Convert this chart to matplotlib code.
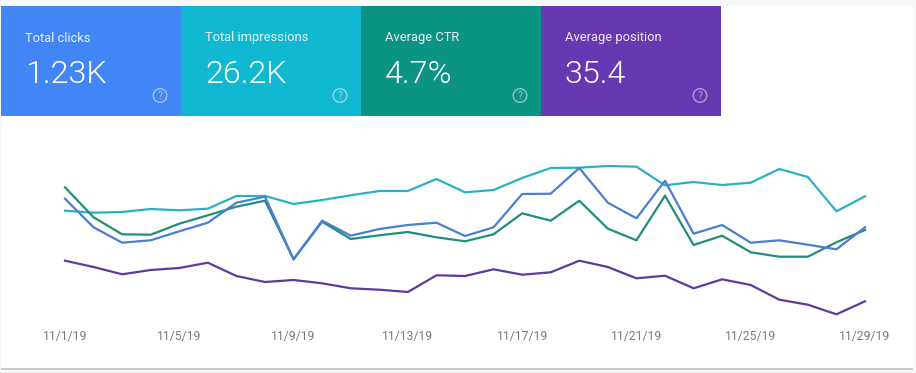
import matplotlib
matplotlib.use('Agg')
import matplotlib.pyplot as plt
from matplotlib.patches import Rectangle, Circle

plt.rcParams['font.family'] = ['Roboto', 'DejaVu Sans']

# every series has its own hidden scale, values are read as height above the chart floor
days = list(range(1, 30))
tick_days = [1, 5, 9, 13, 17, 21, 25, 29]
tick_labels = ['11/%d/19' % d for d in tick_days]

clicks = [121.3, 92.7, 77.3, 79.7, 88.7, 97.3, 117.3, 123.3, 60.7, 99.3,
          84.3, 91, 95, 97.3, 84, 92.7, 126, 126.3, 152, 117.3,
          101.7, 139.3, 86.3, 95, 77.3, 79.7, 75.3, 70.7, 92.7]
impressions = [109.3, 107.3, 108, 111, 109.7, 111.3, 124, 124, 116, 120,
               124.7, 129, 129, 141, 127.7, 130, 142, 152, 152.3, 154,
               153.3, 134.7, 138, 135, 137.3, 151, 143, 108.7, 123.7]
ctr = [132.7, 102.7, 85.7, 85.3, 96.3, 104.7, 113.3, 119.3, 60.7, 98.3,
       81, 84.7, 88, 82.7, 78.7, 85.7, 106.7, 99.3, 119.3, 91.3,
       79.7, 124.3, 75, 84.3, 67.7, 63.3, 63.3, 77.7, 90]
position = [59.3, 53, 45.7, 50, 52, 57.3, 44, 38, 40, 36.7,
            31.7, 30.3, 28, 44.7, 44, 50.7, 45.3, 47.7, 59.3, 53,
            41.7, 44.3, 31.7, 40.7, 35, 20.3, 15.3, 5.7, 18.7]

tile_titles = ['Total clicks', 'Total impressions', 'Average CTR', 'Average position']
tile_values = ['1.23K', '26.2K', '4.7%', '35.4']
tile_colors = ['#4285F4', '#10B8D2', '#0B9384', '#6639B2']

W, H = 916, 373
fig = plt.figure(figsize=(W / 100, H / 100), dpi=100, facecolor='#F7F8F8')

# background layer in pixel coordinates: card and tiles
bg = fig.add_axes([0, 0, 1, 1])
bg.set_xlim(0, W)
bg.set_ylim(H, 0)
bg.axis('off')
bg.add_patch(Rectangle((1, 7), 912, 363, fc='#C9C9C9', ec='none'))
bg.add_patch(Rectangle((1, 6), 912, 362, fc='white', ec='none'))

for i in range(4):
    x0 = 1 + 180 * i
    bg.add_patch(Rectangle((x0, 6), 180, 110, fc=tile_colors[i], ec='none'))
    bg.text(x0 + 24, 38, tile_titles[i], color='white', alpha=0.9, fontsize=9.3, va='center')
    bg.text(x0 + 24, 74.5, tile_values[i], color='white', fontsize=23.2, weight=300, va='center')
    bg.add_patch(Circle((x0 + 159, 95.5), 6.8, fc='none', ec='white', alpha=0.5, lw=1))
    bg.text(x0 + 159, 95.8, '?', color='white', alpha=0.5, fontsize=7.5, ha='center', va='center')

# chart
ax = fig.add_axes([65 / W, (H - 320) / H, 800 / W, 180 / H])
ax.patch.set_alpha(0)
ax.plot(days, impressions, color='#2BB1C7', lw=1.6, clip_on=False)
ax.plot(days, ctr, color='#1F8E7C', lw=1.6, clip_on=False)
ax.plot(days, clicks, color='#4A7DD3', lw=1.6, clip_on=False)
ax.plot(days, position, color='#5C3A9E', lw=1.6, clip_on=False)
ax.set_xlim(1, 29)
ax.set_ylim(0, 180)
ax.set_yticks([])
ax.set_xticks(tick_days)
ax.set_xticklabels(tick_labels, color='#7A7A7A', fontsize=8.7)
ax.tick_params(axis='x', length=0, pad=7.5)
for s in ax.spines.values():
    s.set_visible(False)

fig.savefig('out.png', dpi=100, facecolor=fig.get_facecolor())
